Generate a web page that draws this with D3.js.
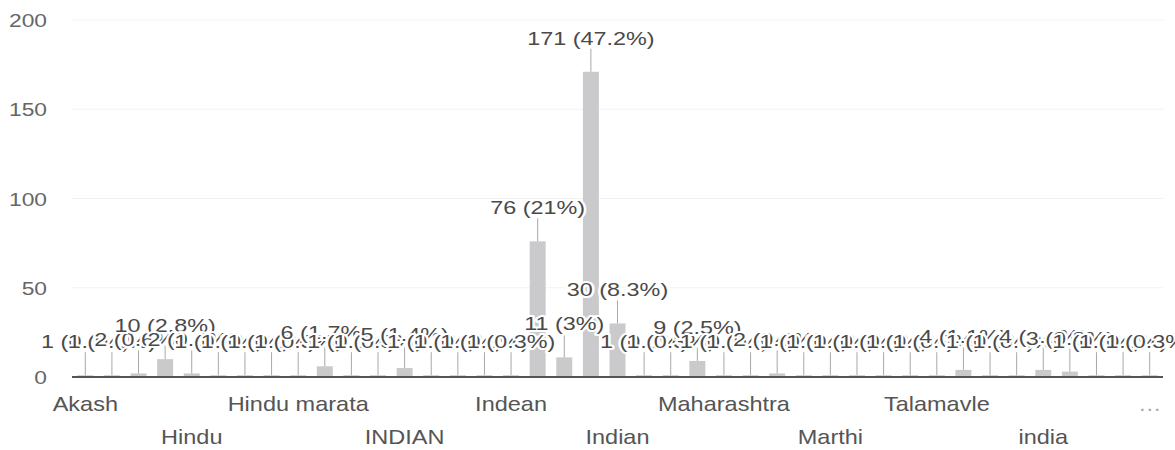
<!DOCTYPE html>
<html><head><meta charset="utf-8">
<script src="https://cdn.jsdelivr.net/npm/d3@7"></script>
<style>body{margin:0;background:#fff} svg{display:block} text{font-family:"Liberation Sans",Arial,sans-serif}</style>
</head><body><svg id="c" width="1175" height="450"></svg>
<script>
// Category labels (only every 4th one is legible in the reference; others unknown -> null)
const categories = ["Akash",null,null,null,"Hindu",null,null,null,"Hindu marata",null,null,null,"INDIAN",null,null,null,"Indean",null,null,null,"Indian",null,null,null,"Maharashtra",null,null,null,"Marthi",null,null,null,"Talamavle",null,null,null,"india",null,null,null,"…"];
const values = [1,1,2,10,2,1,1,1,1,6,1,1,5,1,1,1,1,76,11,171,30,1,1,9,1,1,2,1,1,1,1,1,1,4,1,1,4,3,1,1,1];
const yTicks = [0,50,100,150,200];

const svg = d3.select("#c");
const total = d3.sum(values);
const idx = d3.range(values.length);
const x = d3.scaleBand().domain(idx).range([72,1163]).paddingInner(0.4).paddingOuter(0.2);
const y = d3.scaleLinear().domain([0,200]).range([377,20]);
const cx = i => x(i) + x.bandwidth()/2;
const pctFmt = v => d3.format(".1f")(v/total*100).replace(/\.0$/,"");

// gridlines
svg.append("g").selectAll("line").data(yTicks.filter(t=>t>0)).join("line")
  .attr("x1",72).attr("x2",1163).attr("y1",d=>y(d)).attr("y2",d=>y(d))
  .attr("stroke","#f2f2f2").attr("stroke-width",1);

// y axis
const ya = svg.append("g").attr("transform","translate(47,0)")
  .call(d3.axisLeft(y).tickValues(yTicks).tickSize(0).tickPadding(0));
ya.select(".domain").remove();
ya.selectAll("text").attr("fill","#666").attr("font-size",19).attr("dy","0.35em")
  .attr("transform","scale(1.2,1)");

// bars
svg.append("g").selectAll("rect").data(idx).join("rect")
  .attr("x",i=>x(i)).attr("y",i=>y(values[i])).attr("width",x.bandwidth())
  .attr("height",i=>y(0)-y(values[i])).attr("fill","#cacacd");

// baseline
svg.append("line").attr("x1",72).attr("x2",1163).attr("y1",y(0)).attr("y2",y(0))
  .attr("stroke","#555").attr("stroke-width",2);

// stems
svg.append("g").selectAll("line").data(idx).join("line")
  .attr("x1",cx).attr("x2",cx).attr("y1",i=>y(values[i])-23).attr("y2",i=>y(values[i]))
  .attr("stroke","#a8a8a8").attr("stroke-width",1);

// data labels (white halo, later labels drawn over earlier ones)
svg.append("g").selectAll("text").data(idx).join("text")
  .attr("text-anchor","middle").attr("font-size",18).attr("fill","#4a4a4a")
  .attr("stroke","#fff").attr("stroke-width",4).attr("paint-order","stroke")
  .attr("stroke-linejoin","round")
  .attr("transform",i=>`translate(${cx(i)},${y(values[i])-27}) scale(1.3,1)`)
  .text(i=>`${values[i]} (${pctFmt(values[i])}%)`);

// x axis labels (every 4th, staggered in two rows)
const shown = idx.filter(i=>i%4===0);
const xa = svg.append("g").attr("transform",`translate(0,${y(0)})`)
  .call(d3.axisBottom(x).tickValues(shown).tickFormat(i=>categories[i]).tickSize(0).tickPadding(0));
xa.select(".domain").remove();
xa.selectAll("text")
  .attr("y",null).attr("dy",null)
  .attr("font-size",21).attr("fill",i=>i===40?"#aaa":"#555")
  .attr("transform",i=>`translate(0,${(i/4)%2===0?34:67}) scale(1.12,1)`);
</script></body></html>
